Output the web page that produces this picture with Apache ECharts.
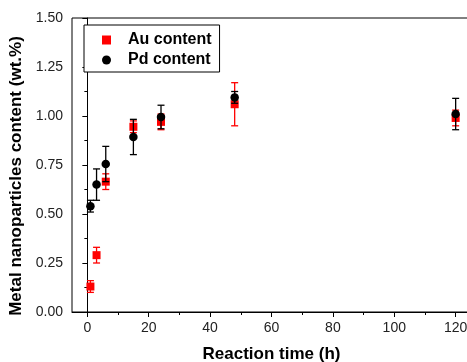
<!DOCTYPE html>
<html>
<head>
<meta charset="utf-8">
<script src="https://cdn.jsdelivr.net/npm/echarts@6/dist/echarts.min.js"></script>
<style>
  html, body { margin: 0; padding: 0; background: #fff; }
  #chart { width: 467px; height: 362px; }
</style>
</head>
<body>
<div id="chart"></div>
<script>
// Reaction times (h)
const times = [1, 3, 6, 15, 24, 48, 120];
// Au loading (wt.%) and its standard deviation
const auContent = [0.13, 0.29, 0.665, 0.945, 0.97, 1.06, 0.99];
const auError   = [0.03, 0.04, 0.04, 0.03, 0.04, 0.11, 0.04];
// Pd loading (wt.%) and its standard deviation
const pdContent = [0.54, 0.65, 0.755, 0.893, 0.995, 1.095, 1.01];
const pdError   = [0.03, 0.08, 0.09, 0.09, 0.06, 0.03, 0.08];

const xMajorTicks = [0, 20, 40, 60, 80, 100, 120];
const xMinorTicks = [10, 30, 50, 70, 90, 110];

const FONT = 'Liberation Sans, Arial, sans-serif';

function pairs(ys) { return times.map((t, i) => [t, ys[i]]); }
function errRows(ys, es) { return times.map((t, i) => [t, ys[i] - es[i], ys[i] + es[i]]); }

// Vertical error bar with caps, drawn in data space through the axes
function errorBar(color) {
  return function (params, api) {
    const x = api.value(0);
    const lo = api.coord([x, api.value(1)]);
    const hi = api.coord([x, api.value(2)]);
    const cap = 3.5;
    const style = { stroke: color, lineWidth: 1.3 };
    return {
      type: 'group',
      children: [
        { type: 'line', shape: { x1: lo[0], y1: lo[1], x2: hi[0], y2: hi[1] }, style },
        { type: 'line', shape: { x1: lo[0] - cap, y1: lo[1], x2: lo[0] + cap, y2: lo[1] }, style },
        { type: 'line', shape: { x1: hi[0] - cap, y1: hi[1], x2: hi[0] + cap, y2: hi[1] }, style }
      ]
    };
  };
}

const chart = echarts.init(document.getElementById('chart'), null, { renderer: 'canvas' });
chart.setOption({
  animation: false,
  backgroundColor: '#fff',
  grid: {
    left: 72, top: 18, right: -4, bottom: 50,
    outerBoundsMode: 'none', containLabel: false,
    show: true, borderColor: '#000', borderWidth: 1
  },
  legend: {
    orient: 'vertical',
    left: 84, top: 25,
    padding: [7, 8, 4, 18],
    itemGap: 4,
    itemWidth: 9, itemHeight: 9,
    borderColor: '#000', borderWidth: 1, backgroundColor: '#fff',
    data: [
      { name: 'Au content', icon: 'rect' },
      { name: 'Pd content', icon: 'circle' }
    ],
    textStyle: { fontFamily: FONT, fontSize: 16, fontWeight: 'bold', color: '#000', padding: [0, 0, 0, 12] }
  },
  xAxis: [
    {
      type: 'value', min: -5, max: 125, position: 'bottom',
      name: 'Reaction time (h)', nameLocation: 'middle', nameGap: 34,
      nameTextStyle: { fontFamily: FONT, fontSize: 17, fontWeight: 'bold', color: '#000' },
      axisLine: { lineStyle: { color: '#000', width: 1 } },
      axisTick: { show: true, length: 5, lineStyle: { color: '#000' }, customValues: xMajorTicks },
      axisLabel: { customValues: xMajorTicks, fontFamily: FONT, fontSize: 14, color: '#222', margin: 9 },
      splitLine: { show: false }
    },
    {
      type: 'value', min: -5, max: 125, position: 'bottom',
      axisLine: { show: false },
      axisTick: { show: true, length: 3, lineStyle: { color: '#000' }, customValues: xMinorTicks },
      axisLabel: { show: false },
      splitLine: { show: false }
    }
  ],
  yAxis: {
    type: 'value', min: 0, max: 1.5, interval: 0.25,
    name: 'Metal nanoparticles content (wt.%)', nameLocation: 'middle', nameGap: 47,
    nameTextStyle: { fontFamily: FONT, fontSize: 17, fontWeight: 'bold', color: '#000', padding: [0, 22, 0, 0] },
    axisLine: { show: true, lineStyle: { color: '#000', width: 1 } },
    axisTick: { show: true, length: 5, lineStyle: { color: '#000' } },
    minorTick: { show: true, splitNumber: 2, length: 3, lineStyle: { color: '#000' } },
    axisLabel: { fontFamily: FONT, fontSize: 14, color: '#222', margin: 9, formatter: v => v.toFixed(2) },
    splitLine: { show: false }
  },
  series: [
    {
      name: 'Au error', type: 'custom', renderItem: errorBar('#ff0000'),
      data: errRows(auContent, auError), encode: { x: 0, y: [1, 2] }, z: 2, silent: true
    },
    {
      name: 'Au content', type: 'scatter', symbol: 'rect', symbolSize: 8,
      itemStyle: { color: '#ff0000', opacity: 1 }, data: pairs(auContent), z: 3
    },
    {
      name: 'Pd error', type: 'custom', renderItem: errorBar('#000000'),
      data: errRows(pdContent, pdError), encode: { x: 0, y: [1, 2] }, z: 4, silent: true
    },
    {
      name: 'Pd content', type: 'scatter', symbol: 'circle', symbolSize: 8.5,
      itemStyle: { color: '#000000', opacity: 1 }, data: pairs(pdContent), z: 5
    }
  ]
});
</script>
</body>
</html>
